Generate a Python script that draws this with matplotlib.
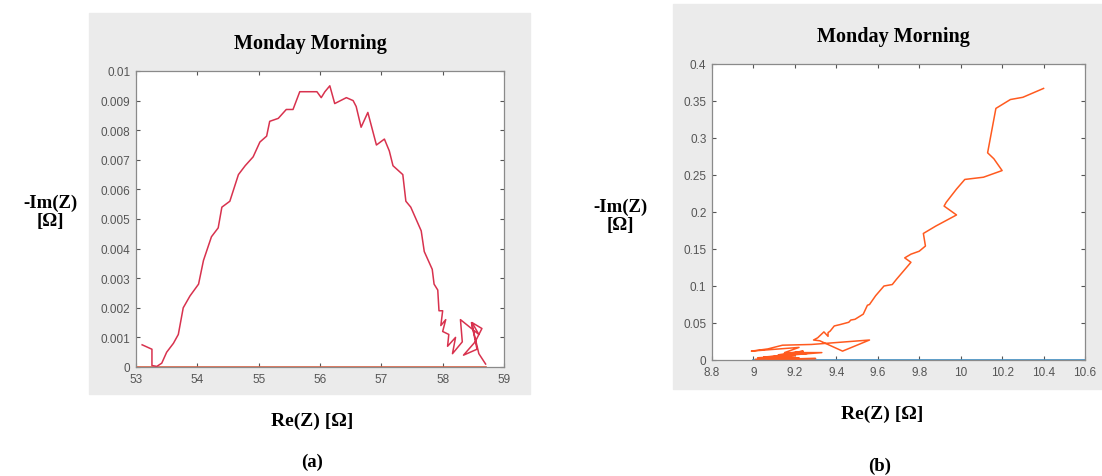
import matplotlib.pyplot as plt
from matplotlib.patches import Rectangle

# panel (a): Nyquist plot, Re(Z) vs -Im(Z)
re_a = [53.10, 53.26, 53.26, 53.34, 53.42, 53.50, 53.61, 53.69, 53.77, 53.88,
        54.02, 54.10, 54.23, 54.34, 54.40, 54.53, 54.67, 54.78, 54.91, 55.02,
        55.13, 55.18, 55.32, 55.45, 55.56, 55.67, 55.78, 55.95, 56.02, 56.08,
        56.16, 56.24, 56.43, 56.54, 56.59, 56.67, 56.78, 56.92, 57.05, 57.13,
        57.19, 57.35, 57.40, 57.48, 57.65, 57.70, 57.83, 57.86, 57.92, 57.94,
        58.00, 57.97, 58.05, 58.00, 58.10, 58.08, 58.21, 58.16, 58.32, 58.29,
        58.59, 58.48, 58.64, 58.53, 58.34, 58.56, 58.47, 58.59, 58.70]
im_a = [0.00075, 0.0006, 0.00005, 0.00002, 0.00013, 0.0005, 0.0008, 0.0011, 0.0020, 0.0024,
        0.0028, 0.0036, 0.0044, 0.0047, 0.0054, 0.0056, 0.0065, 0.0068, 0.0071, 0.0076,
        0.0078, 0.0083, 0.0084, 0.0087, 0.0087, 0.0093, 0.0093, 0.0093, 0.0091, 0.0093,
        0.0095, 0.0089, 0.0091, 0.0090, 0.0088, 0.0081, 0.0086, 0.0075, 0.0077, 0.0073,
        0.0068, 0.0065, 0.0056, 0.0054, 0.0046, 0.0039, 0.0033, 0.0028, 0.0026, 0.0019,
        0.0019, 0.0014, 0.0016, 0.0012, 0.0011, 0.0007, 0.0010, 0.00045, 0.00085, 0.0016,
        0.0011, 0.0015, 0.0013, 0.00085, 0.0004, 0.0006, 0.0015, 0.00045, 0.0001]
zero_a_x = [53.0, 58.7]
zero_a_y = [0, 0]

# panel (b)
re_b = [10.40, 10.30, 10.24, 10.17, 10.13, 10.16, 10.20, 10.11, 10.02, 9.98,
        9.93, 9.92, 9.98, 9.88, 9.82, 9.83, 9.80, 9.76, 9.73, 9.76,
        9.69, 9.67, 9.63, 9.59, 9.56, 9.55, 9.53, 9.49, 9.47, 9.46,
        9.42, 9.39, 9.37, 9.36, 9.36, 9.34, 9.31, 9.29, 9.32, 9.43,
        9.56, 9.28, 9.14, 9.07, 8.99, 9.08, 9.22, 9.15, 9.33, 9.10,
        9.24, 9.12, 9.26, 9.05, 9.20, 9.02, 9.22, 9.07, 9.30, 9.01]
im_b = [0.367, 0.355, 0.352, 0.340, 0.280, 0.272, 0.256, 0.247, 0.244, 0.231,
        0.213, 0.208, 0.196, 0.181, 0.171, 0.154, 0.147, 0.143, 0.138, 0.132,
        0.109, 0.102, 0.100, 0.087, 0.075, 0.074, 0.062, 0.055, 0.054, 0.051,
        0.048, 0.046, 0.039, 0.037, 0.032, 0.038, 0.030, 0.027, 0.026, 0.012,
        0.027, 0.021, 0.020, 0.015, 0.012, 0.014, 0.017, 0.010, 0.010, 0.005,
        0.012, 0.007, 0.009, 0.004, 0.006, 0.003, 0.003, 0.001, 0.002, 0.001]
zero_b_x = [9.0, 10.6]
zero_b_y = [0, 0]

W, H = 1102, 477
fig = plt.figure(figsize=(W / 100, H / 100), dpi=100)


def fx(x):
    return x / W


def fy(y):
    return 1 - y / H


# grey MATLAB-like figure backgrounds (behind the axes)
fig.patches.append(Rectangle((fx(89), fy(395)), (530 - 89) / W, (395 - 14) / H,
                             transform=fig.transFigure, color='#ebebeb', zorder=-5))
fig.patches.append(Rectangle((fx(673), fy(390)), (1102 - 673) / W, (390 - 5) / H,
                             transform=fig.transFigure, color='#ebebeb', zorder=-5))

serif = 'Liberation Serif'


def style(ax):
    ax.set_facecolor('white')
    for s in ax.spines.values():
        s.set_color('#8a8a8a')
        s.set_linewidth(0.9)
    ax.tick_params(direction='in', top=True, right=True, length=3, width=0.8,
                   color='#555555', labelsize=8.5, labelcolor='#555555', pad=4)
    for lab in ax.get_xticklabels() + ax.get_yticklabels():
        lab.set_family('Liberation Sans')


ax1 = fig.add_axes([fx(136), fy(368), (504 - 136) / W, (368 - 72) / H])
ax1.plot(zero_a_x, zero_a_y, color='#e0603f', lw=1.2)
ax1.plot(re_a, im_a, color='#d8324e', lw=1.1)
ax1.set_xlim(53, 59)
ax1.set_ylim(0, 0.01)
ax1.set_xticks([53, 54, 55, 56, 57, 58, 59])
ax1.set_yticks([0, 0.001, 0.002, 0.003, 0.004, 0.005, 0.006, 0.007, 0.008, 0.009, 0.01])
ax1.set_yticklabels(['0', '0.001', '0.002', '0.003', '0.004', '0.005', '0.006',
                     '0.007', '0.008', '0.009', '0.01'])
style(ax1)

ax2 = fig.add_axes([fx(712), fy(361), (1085 - 712) / W, (361 - 65) / H])
ax2.plot(zero_b_x, zero_b_y, color='#3a8fc8', lw=1.2)
ax2.plot(re_b, im_b, color='#ff5a1f', lw=1.1)
ax2.set_xlim(8.8, 10.6)
ax2.set_ylim(0, 0.4)
ax2.set_xticks([8.8, 9, 9.2, 9.4, 9.6, 9.8, 10, 10.2, 10.4, 10.6])
ax2.set_xticklabels(['8.8', '9', '9.2', '9.4', '9.6', '9.8', '10', '10.2', '10.4', '10.6'])
ax2.set_yticks([0, 0.05, 0.1, 0.15, 0.2, 0.25, 0.3, 0.35, 0.4])
ax2.set_yticklabels(['0', '0.05', '0.1', '0.15', '0.2', '0.25', '0.3', '0.35', '0.4'])
style(ax2)

# titles and labels
fig.text(fx(310), fy(44), 'Monday Morning', family=serif, weight='bold',
         fontsize=14.5, ha='center', va='center')
fig.text(fx(893), fy(37), 'Monday Morning', family=serif, weight='bold',
         fontsize=14.5, ha='center', va='center')

fig.text(fx(50), fy(212), '-Im(Z)\n[Ω]', family=serif, weight='bold',
         fontsize=13.5, ha='center', va='center', linespacing=1.1)
fig.text(fx(620), fy(216), '-Im(Z)\n[Ω]', family=serif, weight='bold',
         fontsize=13.5, ha='center', va='center', linespacing=1.1)

fig.text(fx(312), fy(421), 'Re(Z) [Ω]', family=serif, weight='bold',
         fontsize=14, ha='center', va='center')
fig.text(fx(882), fy(414), 'Re(Z) [Ω]', family=serif, weight='bold',
         fontsize=14, ha='center', va='center')

fig.text(fx(312), fy(462), '(a)', family=serif, weight='bold',
         fontsize=13.5, ha='center', va='center')
fig.text(fx(880), fy(466), '(b)', family=serif, weight='bold',
         fontsize=13.5, ha='center', va='center')

fig.savefig('out.png', dpi=100)
